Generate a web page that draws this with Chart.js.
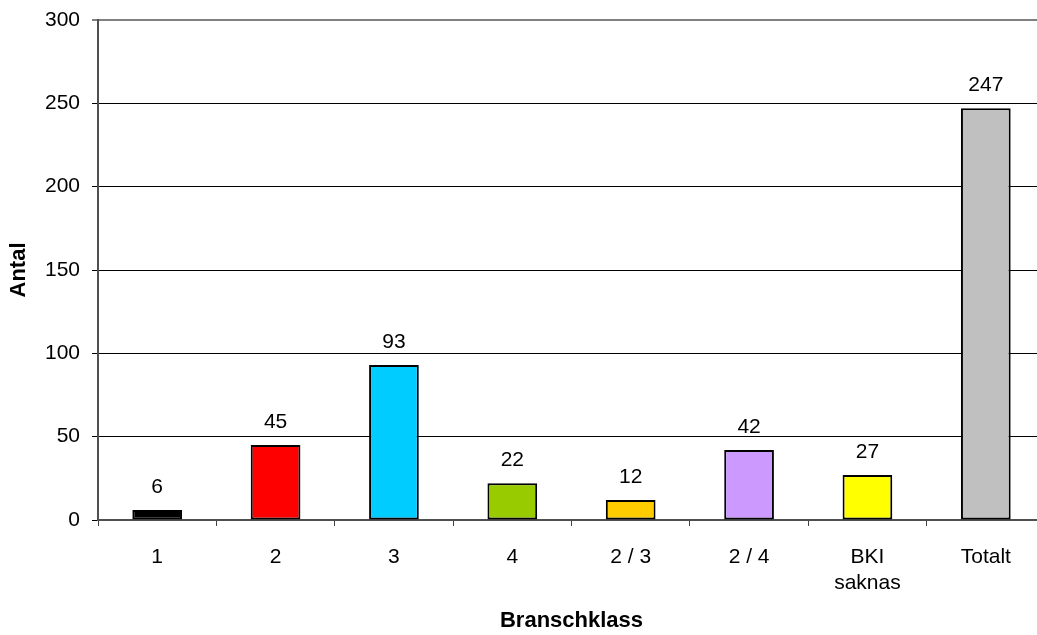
<!DOCTYPE html>
<html>
<head>
<meta charset="utf-8">
<script src="https://cdn.jsdelivr.net/npm/chart.js@4"></script>
<style>
  html, body { margin: 0; padding: 0; background: #fff; overflow: hidden; }
  #wrap { width: 1045px; height: 635px; }
</style>
</head>
<body>
<div id="wrap"><canvas id="branscher" width="1045" height="635"></canvas></div>
<script>
const klasser = ["1", "2", "3", "4", "2 / 3", "2 / 4", ["BKI", "saknas"], "Totalt"];
const antal = [6, 45, 93, 22, 12, 42, 27, 247];
const farger = ['#000000', '#FF0000', '#00CCFF', '#99CC00', '#FFCC00', '#CC99FF', '#FFFF00', '#C0C0C0'];
const yTicks = [0, 50, 100, 150, 200, 250, 300];

const fontFamily = '"Liberation Sans", Arial, sans-serif';

// skriver värdet ovanför varje stapel
const etiketter = {
  id: 'etiketter',
  afterDatasetsDraw(chart) {
    const ctx = chart.ctx;
    const meta = chart.getDatasetMeta(0);
    ctx.save();
    ctx.font = '21px ' + fontFamily;
    ctx.fillStyle = '#000';
    ctx.textAlign = 'center';
    ctx.textBaseline = 'alphabetic';
    meta.data.forEach((bar, i) => {
      ctx.fillText(String(antal[i]), bar.x, bar.y - 17);
    });
    ctx.restore();
  }
};

new Chart(document.getElementById('branscher'), {
  type: 'bar',
  data: {
    labels: klasser,
    datasets: [{
      data: antal,
      backgroundColor: farger,
      borderColor: '#000',
      borderWidth: 2,
      borderSkipped: false,
      barPercentage: 0.42,
      categoryPercentage: 1
    }]
  },
  plugins: [etiketter],
  options: {
    responsive: false,
    animation: false,
    layout: { padding: { top: 20, right: 0, bottom: 0, left: 0 } },
    plugins: {
      legend: { display: false },
      tooltip: { enabled: false }
    },
    scales: {
      x: {
        afterFit(scale) { scale.height = 115; },
        grid: {
          offset: true,
          drawOnChartArea: false,
          drawTicks: true,
          tickLength: 6,
          color: '#404040',
          lineWidth: 1
        },
        border: { color: '#505050', width: 2 },
        ticks: {
          color: '#000',
          padding: 19,
          font: { family: fontFamily, size: 21 },
          maxRotation: 0,
          autoSkip: false
        },
        title: {
          display: true,
          text: 'Branschklass',
          color: '#000',
          font: { family: fontFamily, size: 22, weight: 'bold' },
          padding: { top: 0, bottom: 1 }
        }
      },
      y: {
        min: 0,
        max: 300,
        afterFit(scale) {
          scale.width = 98;
          scale.paddingTop = 0;
          scale.paddingBottom = 0;
        },
        afterBuildTicks(scale) { scale.ticks = yTicks.map(v => ({ value: v })); },
        grid: {
          color: ctx => ctx.tick && ctx.tick.value === 300 ? '#808080' : '#000',
          lineWidth: ctx => ctx.tick && ctx.tick.value === 300 ? 2 : 1,
          tickLength: 6,
          drawTicks: true
        },
        border: { color: '#505050', width: 2 },
        ticks: {
          color: '#000',
          padding: 12,
          font: { family: fontFamily, size: 21 }
        },
        title: {
          display: true,
          text: 'Antal',
          color: '#000',
          font: { family: fontFamily, size: 22, weight: 'bold' },
          padding: { top: 6, bottom: 0 }
        }
      }
    }
  }
});
</script>
</body>
</html>
